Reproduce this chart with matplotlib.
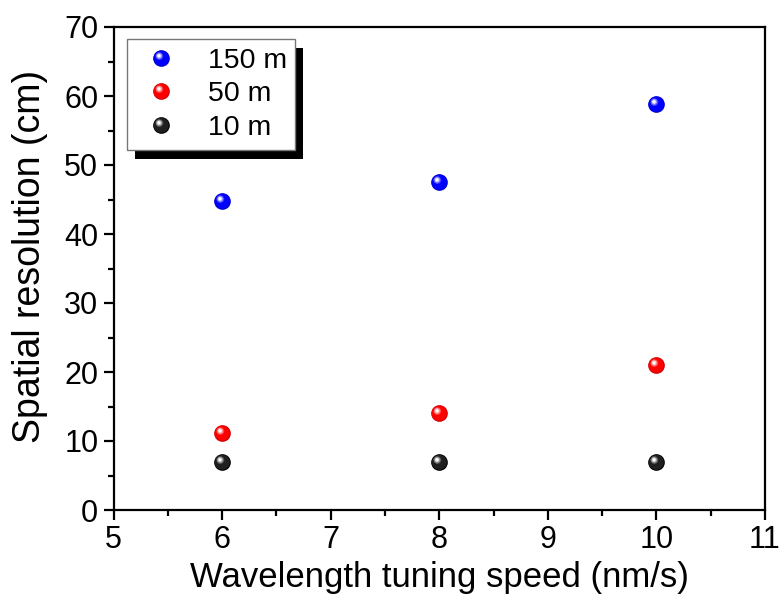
import numpy as np
import matplotlib
matplotlib.use('Agg')
import matplotlib.pyplot as plt
from matplotlib.path import Path
from matplotlib.patches import Rectangle
from matplotlib.colors import to_rgb
from matplotlib.ticker import MultipleLocator

plt.rcParams['font.family'] = ['Liberation Sans', 'DejaVu Sans']

speed = [6, 8, 10]
res_150 = [44.8, 47.6, 58.8]
res_50 = [11.2, 14.0, 21.0]
res_10 = [7.0, 7.0, 7.0]

series = [
    ('150 m', res_150, '#0000ff'),
    ('50 m', res_50, '#ff0000'),
    ('10 m', res_10, '#000000'),
]


def sphere_marker(cx, cy, r):
    # four empty MOVETO points keep the marker scale fixed to a unit circle
    anchor = Path([[1, 0], [-1, 0], [0, 1], [0, -1]], [Path.MOVETO] * 4)
    return Path.make_compound_path(anchor, Path.circle((cx, cy), r))


def sphere_layers(color):
    base = np.array(to_rgb(color))
    dark = base * 0.8
    if base.sum() == 0:
        base = np.array([0.12, 0.12, 0.12])
        dark = np.zeros(3)
    layers = [('o', dark), (sphere_marker(-0.03, 0.03, 0.9), base)]
    steps = 5
    for i in range(1, steps + 1):
        t = i / steps
        r = 0.55 - 0.38 * t
        cx, cy = -0.25 - 0.05 * t, 0.28 + 0.05 * t
        c = base * (1 - t) + np.ones(3) * t
        layers.append((sphere_marker(cx, cy, r), np.clip(c, 0, 1)))
    return layers


fig = plt.figure(figsize=(7.83, 6), dpi=100)
ax = fig.add_axes([0.145, 0.15, 0.832, 0.805])

ms = 12
handles = []
for label, vals, color in series:
    parts = []
    for i, (m, c) in enumerate(sphere_layers(color)):
        ln, = ax.plot(speed, vals, linestyle='none', marker=m, markersize=ms,
                      markerfacecolor=c, markeredgewidth=0, zorder=3 + i * 0.01)
        parts.append(ln)
    handles.append(tuple(parts))

ax.set_xlim(5, 11)
ax.set_ylim(0, 70)
ax.xaxis.set_major_locator(MultipleLocator(1))
ax.xaxis.set_minor_locator(MultipleLocator(0.5))
ax.yaxis.set_major_locator(MultipleLocator(10))
ax.yaxis.set_minor_locator(MultipleLocator(5))
ax.tick_params(which='both', direction='out', width=1.6, labelsize=22, top=False, right=False)
ax.tick_params(which='major', length=7, pad=4)
ax.tick_params(which='minor', length=4)
for sp in ax.spines.values():
    sp.set_linewidth(1.6)

ax.set_xlabel('Wavelength tuning speed (nm/s)', fontsize=25, labelpad=4)
ax.set_ylabel('Spatial resolution (cm)', fontsize=27)
ax.yaxis.set_label_coords(-0.1, 0.525)

leg_kw = dict(fontsize=20.5, frameon=True, fancybox=False, edgecolor='#777777',
              framealpha=1, handletextpad=0.75, borderpad=0.3, labelspacing=0.27,
              handlelength=1.8, borderaxespad=0)
leg = ax.legend(handles, [s[0] for s in series], loc='upper left',
                bbox_to_anchor=(0.02, 0.975), **leg_kw)

fig.canvas.draw()
bb = leg.get_window_extent().transformed(fig.transFigure.inverted())
off_x, off_y = 8 / 783, 9 / 600
shadow = Rectangle((bb.x0 + off_x, bb.y0 - off_y), bb.width, bb.height,
                   transform=fig.transFigure, facecolor='black', edgecolor='none',
                   zorder=5)
fig.patches.append(shadow)
shadow.set_figure(fig)
# redraw the legend on the figure so it sits above the shadow
leg.remove()
leg2 = fig.legend(handles, [s[0] for s in series], loc='lower left',
                  bbox_to_anchor=(bb.x0, bb.y0), bbox_transform=fig.transFigure,
                  **leg_kw)
leg2.get_frame().set_linewidth(1.0)

fig.savefig('out.png', dpi=100)
